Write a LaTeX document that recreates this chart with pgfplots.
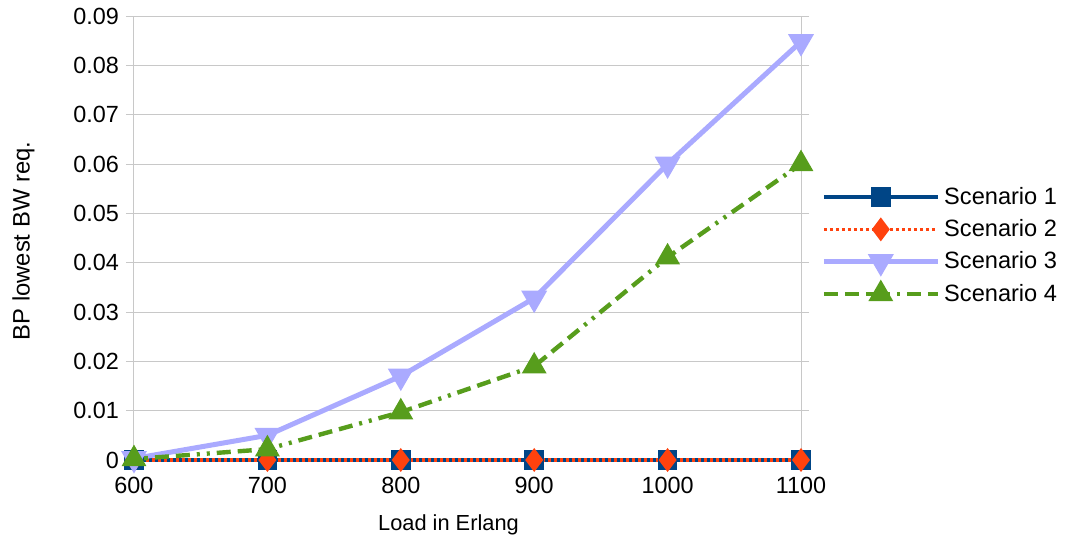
\documentclass[border=0pt]{standalone}
\usepackage{pgfplots}
\pgfplotsset{compat=1.18}
\usepackage{fontspec}
\setmainfont{Liberation Sans}
\definecolor{sone}{HTML}{004586}
\definecolor{stwo}{HTML}{FF420E}
\definecolor{sthree}{HTML}{AAAAFF}
\definecolor{sfour}{HTML}{579D1C}
\definecolor{gridc}{HTML}{C8C8C8}
\begin{document}
\begin{tikzpicture}
\path[use as bounding box] (-67pt,-40pt) rectangle (468pt,230pt);
\begin{axis}[
  at={(0,0)}, anchor=south west,
  scale only axis, width=333.5pt, height=222pt,
  xmin=600, xmax=1100, ymin=0, ymax=0.09,
  xtick={600,700,800,900,1000,1100},
  ytick={0,0.01,0.02,0.03,0.04,0.05,0.06,0.07,0.08,0.09},
  yticklabel style={/pgf/number format/fixed,/pgf/number format/precision=2},
  xticklabel style={/pgf/number format/1000 sep={}, yshift=-1pt},
  /pgf/number format/assume math mode=true,
  scaled y ticks=false,
  tick label style={font=\fontsize{11.7}{13}\selectfont},
  ymajorgrids, major grid style={gridc, line width=0.5pt},
  axis line style={gridc, line width=0.5pt},
  tick align=outside,
  ytick style={gridc, line width=0.5pt}, major tick length=4pt,
  xtick style={draw=none},
  xlabel={Load in Erlang}, ylabel={BP lowest BW req.},
  xlabel style={font=\fontsize{10.9}{12}\selectfont, yshift=-3.5pt, xshift=-9.5pt},
  ylabel style={font=\fontsize{11.9}{13}\selectfont, yshift=12.5pt, xshift=-1.5pt},
  legend style={draw=none, fill=none, at={(1.021,0.483)}, anchor=west,
    font=\fontsize{11.8}{13}\selectfont, row sep=2.1pt},
  legend cell align=left,
  legend image code/.code={
    \draw[#1, mark repeat=2, mark phase=2] plot coordinates {(0cm,0cm) (1cm,0cm) (2cm,0cm)};
  },
  clip=false,
]
\addplot[sone, line width=1.8pt, mark=square*, mark size=4pt, mark options={solid}]
  coordinates {(600,0) (700,0) (800,0) (900,0) (1000,0) (1100,0)};
\addlegendentry{Scenario 1}
\addplot[stwo, line width=1.8pt, dash pattern=on 1.5pt off 1.5pt, mark=diamond*, mark size=4.5pt, mark options={solid}]
  coordinates {(600,0) (700,0) (800,0) (900,0) (1000,0) (1100,0)};
\addlegendentry{Scenario 2}
\addplot[sthree, line width=2.5pt, mark=triangle*, mark size=5pt, mark options={solid, rotate=180}]
  coordinates {(600,0.0003) (700,0.005) (800,0.017) (900,0.0328) (1000,0.060) (1100,0.0848)};
\addlegendentry{Scenario 3}
\addplot[sfour, line width=2.2pt, dash pattern=on 7pt off 3.5pt on 7pt off 3.5pt on 7pt off 3.5pt on 1.5pt off 3.5pt on 1.5pt off 3.5pt, mark=triangle*, mark size=5pt, mark options={solid}]
  coordinates {(600,0.0002) (700,0.0022) (800,0.0097) (900,0.019) (1000,0.0411) (1100,0.060)};
\addlegendentry{Scenario 4}
\end{axis}
\end{tikzpicture}
\end{document}
